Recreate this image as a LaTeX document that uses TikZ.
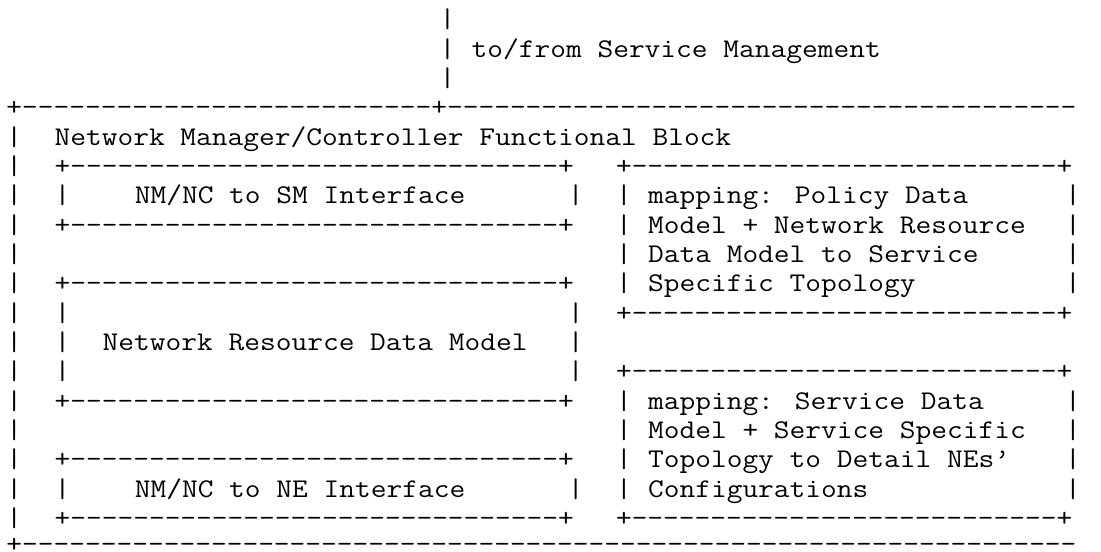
\documentclass[tikz,border=0pt]{standalone}
\usepackage{graphicx}

% a run of n hyphens, kept apart so no ligature forms
\newcount\dashcount
\newcommand\dashrun[1]{\dashcount=#1\relax\loop\ifnum\dashcount>0 -\relax\advance\dashcount by -1\repeat}

% character grid: 16.04px per column, 29.33px per row
\tikzset{
  asciicell/.style={anchor=base west, inner sep=0pt, outer sep=0pt,
    font=\fontsize{20.25}{24}\selectfont\ttfamily, text=black}
}
\newcommand\cell[4]{\node[asciicell] (#1) at ({6.5+16.04*#2},{28+29.33*#3}) {\scalebox{1.1316}[1]{#4}};}
\newcommand\boxline{+\dashrun{31}+}
\newcommand\mapline{+\dashrun{27}+}

\begin{document}
\begin{tikzpicture}[x=0.75pt,y=-0.75pt]
\fill[white] (0,0) rectangle (1101,552);
\useasboundingbox (0,0) rectangle (1101,552);

% link to service management
\cell{up0}{27}{0}{|}
\cell{up1}{27}{1}{|}
\cell{uplabel}{29}{1}{to/from Service Management}
\cell{up2}{27}{2}{|}

% outer block (its right side runs past the page edge)
\cell{top}{0}{3}{+\dashrun{26}+\dashrun{40}}
\cell{title}{3}{4}{Network Manager/Controller Functional Block}
\foreach \r in {4,...,17} {\cell{left\r}{0}{\r}{|}}
% last row sits on the lower edge: glyphs lowered, box kept inside
\node[asciicell] (bottom) at (6.5,537) {\scalebox{1.1316}[1]{\raisebox{-12pt}[8pt][0pt]{+\dashrun{67}}}};

% NM/NC to SM interface
\cell{smtop}{3}{5}{\boxline}
\cell{smleft}{3}{6}{|}
\cell{smtext}{8}{6}{NM/NC to SM Interface}
\cell{smright}{35}{6}{|}
\cell{smbottom}{3}{7}{\boxline}

% network resource data model
\cell{nrtop}{3}{9}{\boxline}
\foreach \r in {10,11,12} {\cell{nrleft\r}{3}{\r}{|}\cell{nrright\r}{35}{\r}{|}}
\cell{nrtext}{6}{11}{Network Resource Data Model}
\cell{nrbottom}{3}{13}{\boxline}

% NM/NC to NE interface
\cell{netop}{3}{15}{\boxline}
\cell{neleft}{3}{16}{|}
\cell{netext}{8}{16}{NM/NC to NE Interface}
\cell{neright}{35}{16}{|}
\cell{nebottom}{3}{17}{\boxline}

% first mapping
\cell{mptop}{38}{5}{\mapline}
\foreach \r in {6,...,9} {\cell{mpleft\r}{38}{\r}{|}\cell{mpright\r}{66}{\r}{|}}
\cell{mptext1}{40}{6}{mapping: Policy Data}
\cell{mptext2}{40}{7}{Model + Network Resource}
\cell{mptext3}{40}{8}{Data Model to Service}
\cell{mptext4}{40}{9}{Specific Topology}
\cell{mpbottom}{38}{10}{\mapline}

% second mapping
\cell{mstop}{38}{12}{\mapline}
\foreach \r in {13,...,16} {\cell{msleft\r}{38}{\r}{|}\cell{msright\r}{66}{\r}{|}}
\cell{mstext1}{40}{13}{mapping: Service Data}
\cell{mstext2}{40}{14}{Model + Service Specific}
\cell{mstext3}{40}{15}{Topology to Detail NEs’}
\cell{mstext4}{40}{16}{Configurations}
\cell{msbottom}{38}{17}{\mapline}
\end{tikzpicture}
\end{document}
